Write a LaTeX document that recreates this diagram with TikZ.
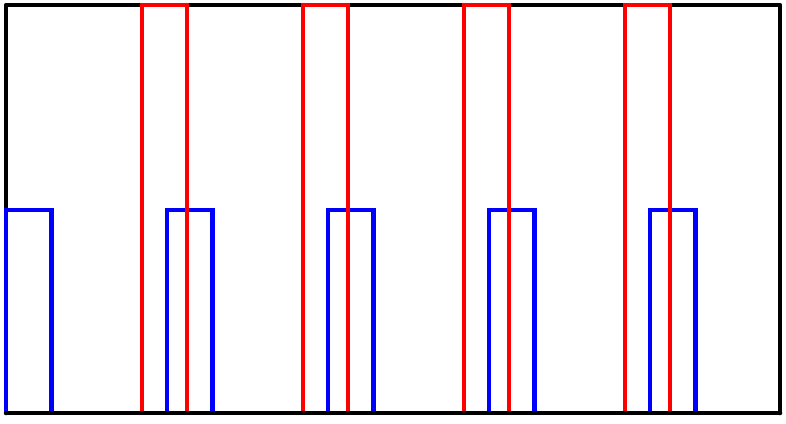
\documentclass[tikz,border=0pt]{standalone}
\begin{document}
\begin{tikzpicture}[x=1pt,y=-1pt,
  frame/.style={draw=black,line width=4.5pt,line cap=round,line join=round},
  redleg/.style={draw=red,line width=4.5pt},
  blueleg/.style={draw=blue,line width=4.5pt}]
\useasboundingbox (0,0) rectangle (786,423);
% frame (top, left, right)
\draw[frame] (6,413) -- (6,5) -- (780,5) -- (780,413);
% blue inverted U shapes
\foreach \i in {0,...,4}{
  \pgfmathsetmacro{\xa}{6+161*\i}
  \pgfmathsetmacro{\xb}{51.5+161*\i}
  \draw[blueleg] (\xa,413) -- (\xa,210) -- (\xb,210) -- (\xb,413);
}
% red inverted U shapes
\foreach \i in {0,...,3}{
  \pgfmathsetmacro{\xa}{142+161*\i}
  \pgfmathsetmacro{\xb}{187+161*\i}
  \draw[redleg] (\xa,413) -- (\xa,5) -- (\xb,5) -- (\xb,413);
}
% frame bottom
\draw[frame] (6,413) -- (780,413);
\end{tikzpicture}
\end{document}
